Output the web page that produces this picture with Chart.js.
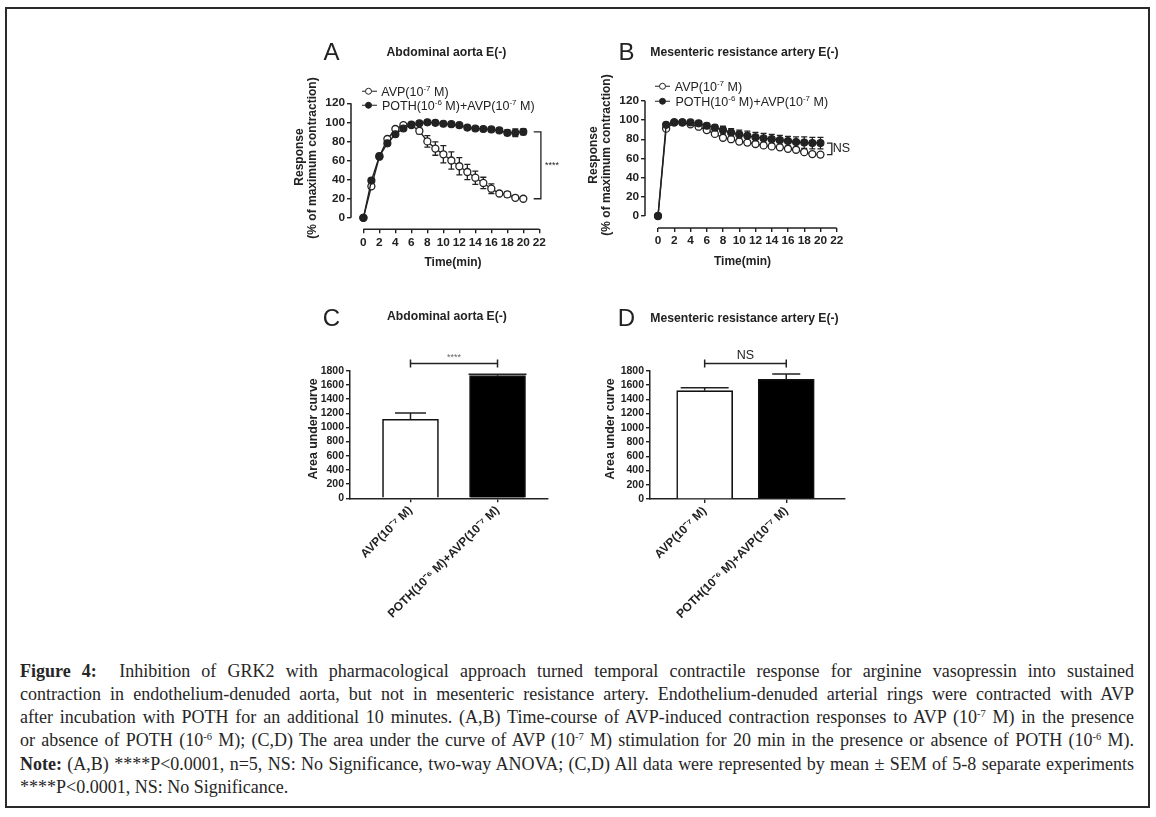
<!DOCTYPE html>
<html>
<head>
<meta charset="utf-8">
<script src="https://cdn.jsdelivr.net/npm/chart.js@4.4.1/dist/chart.umd.min.js"></script>
<style>
  html,body{margin:0;padding:0;}
  body{width:1156px;height:817px;background:#fff;position:relative;overflow:hidden;font-family:"Liberation Sans",Arial,sans-serif;color:#222;}
  .frame{position:absolute;left:5px;top:7px;width:1141px;height:797px;border:2px solid #2a2a2a;}
  canvas{position:absolute;}
  .c{position:absolute;white-space:nowrap;transform:translate(-50%,-50%);line-height:1;}
  .big{font-size:24px;}
  .ttl{font-size:12.2px;font-weight:bold;}
  .ax{font-size:12px;font-weight:bold;}
  .ax2{font-size:12.3px;font-weight:bold;}
  .rot{transform:translate(-50%,-50%) rotate(-90deg);}
  .leg{position:absolute;white-space:nowrap;transform:translateY(-50%);font-size:12.5px;line-height:1;}
  .leg sup{font-size:8px;vertical-align:5px;line-height:0;}
  .mk{display:inline-block;position:relative;width:15px;height:8px;vertical-align:middle;margin-right:2px;top:-1px;}
  .mk:before{content:"";position:absolute;left:0;right:0;top:3.4px;border-top:1.3px solid #222;}
  .mk i{position:absolute;left:3.7px;top:0.3px;width:5px;height:5px;border:1.3px solid #222;border-radius:50%;background:#fff;}
  .mk.f i{background:#222;}
  .cap{position:absolute;left:20px;top:659.5px;width:1114px;font-family:"Liberation Serif","Times New Roman",serif;font-size:18px;line-height:23.3px;color:#262626;}
  .cap div{text-align:justify;text-align-last:justify;white-space:normal;}
  .cap div.last{text-align-last:left;}
  .cap sup{font-size:10.5px;vertical-align:6px;line-height:0;}
</style>
</head>
<body>
<div class="frame"></div>

<canvas id="chartA" width="310" height="230" style="left:270px;top:60px"></canvas>
<canvas id="chartB" width="310" height="230" style="left:565px;top:60px"></canvas>
<canvas id="chartC" width="300" height="300" style="left:270px;top:330px"></canvas>
<canvas id="chartD" width="300" height="300" style="left:570px;top:330px"></canvas>

<!-- panel letters and titles -->
<div class="c big" style="left:331.5px;top:51.5px">A</div>
<div class="c ttl" style="left:446.5px;top:52px">Abdominal aorta E(-)</div>
<div class="c big" style="left:626.5px;top:51.5px">B</div>
<div class="c ttl" style="left:744.5px;top:52px">Mesenteric resistance artery E(-)</div>
<div class="c big" style="left:331.5px;top:317.5px">C</div>
<div class="c ttl" style="left:447px;top:316px">Abdominal aorta E(-)</div>
<div class="c big" style="left:626.5px;top:318px">D</div>
<div class="c ttl" style="left:744.5px;top:318px">Mesenteric resistance artery E(-)</div>

<!-- legends -->
<div class="leg" style="left:361.5px;top:91.7px"><span class="mk"><i></i></span> AVP(10<sup>-7</sup> M)</div>
<div class="leg" style="left:361.5px;top:106px"><span class="mk f"><i></i></span> POTH(10<sup>-6</sup> M)+AVP(10<sup>-7</sup> M)</div>
<div class="leg" style="left:655px;top:87.3px"><span class="mk"><i></i></span> AVP(10<sup>-7</sup> M)</div>
<div class="leg" style="left:655px;top:101.7px"><span class="mk f"><i></i></span> POTH(10<sup>-6</sup> M)+AVP(10<sup>-7</sup> M)</div>

<!-- axis titles -->
<div class="c ax rot" style="left:298.5px;top:157px">Response</div>
<div class="c ax rot" style="left:311.5px;top:157.5px">(% of maximum contraction)</div>
<div class="c ax" style="left:453px;top:262.3px">Time(min)</div>
<div class="c ax rot" style="left:592.5px;top:155px">Response</div>
<div class="c ax rot" style="left:605.5px;top:155px">(% of maximum contraction)</div>
<div class="c ax" style="left:742.5px;top:260.5px">Time(min)</div>
<div class="c ax2 rot" style="left:313px;top:429px">Area under curve</div>
<div class="c ax2 rot" style="left:610px;top:429px">Area under curve</div>

<!-- caption -->
<div class="cap">
  <div><b>Figure 4:</b>&nbsp; Inhibition of GRK2 with pharmacological approach turned temporal contractile response for arginine vasopressin into sustained</div>
  <div>contraction in endothelium-denuded aorta, but not in mesenteric resistance artery. Endothelium-denuded arterial rings were contracted with AVP</div>
  <div>after incubation with POTH for an additional 10 minutes. (A,B) Time-course of AVP-induced contraction responses to AVP (10<sup>-7</sup> M) in the presence</div>
  <div>or absence of POTH (10<sup>-6</sup> M); (C,D) The area under the curve of AVP (10<sup>-7</sup> M) stimulation for 20 min in the presence or absence of POTH (10<sup>-6</sup> M).</div>
  <div><b>Note:</b> (A,B) ****P&lt;0.0001, n=5, NS: No Significance, two-way ANOVA; (C,D) All data were represented by mean ± SEM of 5-8 separate experiments</div>
  <div class="last">****P&lt;0.0001, NS: No Significance.</div>
</div>

<script>
// ---------------- DATA ----------------
const timeMin = [0,1,2,3,4,5,6,7,8,9,10,11,12,13,14,15,16,17,18,19,20];

// Panel A: Abdominal aorta E(-), % of maximum contraction
const aortaAVP      = [0,33,64,82.5,93,97,97,91,80,72.5,66.5,60,54,48,42,36.5,30.5,25.5,24.5,21,20];
const aortaAVPSem   = [0,2,1,1.5,1.5,1,1,3,6,7,9,9,9,8,7,6,5,2,3,1,1];
const aortaPOTH     = [0,39,64.5,78,87.5,93.5,97.5,99,100,99.5,98.5,98,97,94.5,93.5,93,92.5,91.5,89,89,90];
const aortaPOTHSem  = [0,2,1,1.5,1.5,1,1,1,1,1,1,1,1,1,1,1,2,2,3,4,3];

// Panel B: Mesenteric resistance artery E(-)
const mesAVP        = [0,91,97.5,97.5,95.5,93,89.5,85.5,81.5,80,77.5,76.5,75,73.5,72.5,71.5,70,69,66.5,64.5,64];
const mesAVPSem     = [0,2,1,1,1,1,1.5,1.5,2,2,2,2,2,2,2,2,2,2,2,2,2];
const mesPOTH       = [0,95,97.5,97.5,97.5,96.5,94,92,89.5,87,85,83.5,82,81,80,79,78,77,76.5,76,76];
const mesPOTHSem    = [0,2,1,1,1.5,2,2.5,3,4,4,4.5,5,5,5,5,5,5,5.5,6,6,6];

// Panels C, D: area under curve
const groups        = ['AVP(10\u207B\u2077 M)', 'POTH(10\u207B\u2076 M)+AVP(10\u207B\u2077 M)'];
const aucAorta      = [1115, 1730];
const aucAortaSem   = [90, 20];
const aucMes        = [1520, 1680];
const aucMesSem     = [40, 75];

// Tick labels
const timeTicks     = [0,2,4,6,8,10,12,14,16,18,20,22];
const responseTicks = [0,20,40,60,80,100,120];
const aucTicks      = [0,200,400,600,800,1000,1200,1400,1600,1800];

// Significance labels
const sigAorta = '****';
const sigMes   = 'NS';

// ---------------- STYLE ----------------
const FONT = '"Liberation Sans", Arial, sans-serif';
const INK = '#222';
const tickFont = {family: FONT, size: 11.8, weight: 'bold'};

// error bar plugin (drawn via the chart scales)
const errorBars = {
  id: 'errorBars',
  beforeDatasetsDraw(chart) { drawErr(chart, 'before'); },
  afterDatasetsDraw(chart) { drawErr(chart, 'after'); }
};
function drawErr(chart, when) {
  const ctx = chart.ctx, xs = chart.scales.x, ys = chart.scales.y;
  chart.data.datasets.forEach((ds, i) => {
    if (!ds.sem || (ds.errWhen || 'before') !== when) return;
    ctx.save();
    ctx.strokeStyle = INK; ctx.lineWidth = ds.errWidth || 1.3;
    ds.data.forEach((pt, j) => {
      const s = ds.sem[j];
      if (!s) return;
      const x = xs.getPixelForValue(pt.x);
      const yT = ys.getPixelForValue(pt.y + s);
      const yB = ds.errUpOnly ? ys.getPixelForValue(pt.y) : ys.getPixelForValue(pt.y - s);
      const cw = Array.isArray(ds.capWidth) ? ds.capWidth[j] : (ds.capWidth || 6);
      ctx.beginPath();
      ctx.moveTo(x, yT); ctx.lineTo(x, yB);
      ctx.moveTo(x - cw/2, yT); ctx.lineTo(x + cw/2, yT);
      if (!ds.errUpOnly) { ctx.moveTo(x - cw/2, yB); ctx.lineTo(x + cw/2, yB); }
      ctx.stroke();
    });
    ctx.restore();
  });
}

// detached GraphPad-style axis lines for the time-course panels
const partialAxes = {
  id: 'partialAxes',
  afterDraw(chart, args, o) {
    if (!o || !o.on) return;
    const ctx = chart.ctx, xs = chart.scales.x, ys = chart.scales.y, ca = chart.chartArea;
    ctx.save(); ctx.strokeStyle = INK; ctx.lineWidth = 1.5;
    ctx.beginPath();
    ctx.moveTo(ca.left, ys.getPixelForValue(o.y0)); ctx.lineTo(ca.left, ys.getPixelForValue(o.y1));
    ctx.moveTo(xs.getPixelForValue(o.x0), ca.bottom); ctx.lineTo(xs.getPixelForValue(o.x1), ca.bottom);
    ctx.stroke();
    ctx.restore();
  }
};

function lineChart(id, avp, avpSem, poth, pothSem, g, annotate) {
  const pts = arr => timeMin.map((t, i) => ({x: t, y: arr[i]}));
  return new Chart(document.getElementById(id), {
    type: 'line',
    data: {
      datasets: [
        {label: 'POTH', data: pts(poth), sem: pothSem, order: 1,
         borderColor: INK, borderWidth: 1.4, tension: 0,
         pointRadius: 3.5, pointBackgroundColor: INK, pointBorderColor: INK, pointBorderWidth: 1.2},
        {label: 'AVP', data: pts(avp), sem: avpSem, order: 2,
         borderColor: INK, borderWidth: 1.4, tension: 0,
         pointRadius: 3.5, pointBackgroundColor: '#fff', pointBorderColor: INK, pointBorderWidth: 1.3}
      ]
    },
    options: {
      responsive: false, animation: false, devicePixelRatio: 1,
      layout: {padding: {left: 0, top: g.top, right: g.right, bottom: 0}},
      plugins: {legend: {display: false}, tooltip: {enabled: false},
                partialAxes: {on: true, y0: 0, y1: 120, x0: 0, x1: 22}},
      scales: {
        x: {type: 'linear', min: g.xmin, max: 22,
            afterBuildTicks: s => { s.ticks = timeTicks.map(v => ({value: v})); },
            afterFit: s => { s.height = g.xh; },
            grid: {display: true, drawOnChartArea: false, drawTicks: true, tickLength: 4, color: INK, lineWidth: 1.4},
            border: {display: false},
            ticks: {font: tickFont, color: INK, padding: 2, maxRotation: 0, autoSkip: false,
                    callback: v => String(v)}},
        y: {type: 'linear', min: g.ymin, max: 120,
            afterBuildTicks: s => { s.ticks = responseTicks.map(v => ({value: v})); },
            afterFit: s => { s.width = g.yw; },
            grid: {display: true, drawOnChartArea: false, drawTicks: true, tickLength: 4, color: INK, lineWidth: 1.4},
            border: {display: false},
            ticks: {font: tickFont, color: INK, padding: 2, autoSkip: false,
                    callback: v => String(v)}}
      }
    },
    plugins: [errorBars, partialAxes, {id: 'sig', afterDraw: annotate}]
  });
}

function barChart(id, vals, sems, g, capW, annotate) {
  return new Chart(document.getElementById(id), {
    type: 'bar',
    data: {
      datasets: [{
        data: vals.map((v, i) => ({x: i, y: v})), sem: sems,
        errUpOnly: true, errWhen: 'after', capWidth: capW, errWidth: 1.5,
        backgroundColor: ['#fff', '#000'], borderColor: '#111', borderWidth: 1.6,
        borderSkipped: 'start', barThickness: 56
      }]
    },
    options: {
      responsive: false, animation: false, devicePixelRatio: 1,
      layout: {padding: {left: 0, top: g.top, right: g.right, bottom: 0}},
      plugins: {legend: {display: false}, tooltip: {enabled: false}},
      scales: {
        x: {type: 'linear', min: g.xmin, max: g.xmax, offset: false,
            afterBuildTicks: s => { s.ticks = groups.map((_, i) => ({value: i})); },
            afterFit: s => { s.height = g.xh; },
            grid: {display: true, offset: false, drawOnChartArea: false, drawTicks: true, tickLength: 4, color: INK, lineWidth: 1.4},
            border: {display: true, color: INK, width: 1.5},
            ticks: {font: {family: FONT, size: 12, weight: 'bold'}, color: INK, padding: 1,
                    minRotation: 45, maxRotation: 45, autoSkip: false,
                    callback: v => groups[v]}},
        y: {type: 'linear', min: 0, max: 1800,
            afterBuildTicks: s => { s.ticks = aucTicks.map(v => ({value: v})); },
            afterFit: s => { s.width = g.yw; },
            grid: {display: true, drawOnChartArea: false, drawTicks: true, tickLength: 4, color: INK, lineWidth: 1.4},
            border: {display: true, color: INK, width: 1.5},
            ticks: {font: {family: FONT, size: 10.5, weight: 'bold'}, color: INK, padding: 2, autoSkip: false,
                    callback: v => String(v)}}
      }
    },
    plugins: [errorBars, {id: 'sig', afterDraw: annotate}]
  });
}

// side bracket for time-course panels
function sideBracket(hi, lo, xLine, xArm, label, font, dx) {
  return chart => {
    const ctx = chart.ctx, xs = chart.scales.x, ys = chart.scales.y;
    const X = xs.getPixelForValue(xLine), A = xs.getPixelForValue(xArm);
    const yh = ys.getPixelForValue(hi), yl = ys.getPixelForValue(lo);
    ctx.save(); ctx.strokeStyle = INK; ctx.lineWidth = 1.3;
    ctx.beginPath(); ctx.moveTo(A, yh); ctx.lineTo(X, yh); ctx.lineTo(X, yl); ctx.lineTo(A, yl); ctx.stroke();
    ctx.fillStyle = INK; ctx.font = font; ctx.textBaseline = 'middle'; ctx.textAlign = 'left';
    ctx.fillText(label, X + dx, ys.getPixelForValue((hi + lo) / 2));
    ctx.restore();
  };
}
// top bracket for bar panels
function topBracket(level, label, font, dy, color) {
  return chart => {
    const ctx = chart.ctx, xs = chart.scales.x, ys = chart.scales.y;
    const x0 = xs.getPixelForValue(0), x1 = xs.getPixelForValue(1), y = ys.getPixelForValue(level);
    ctx.save(); ctx.strokeStyle = INK; ctx.lineWidth = 1.5;
    ctx.beginPath();
    ctx.moveTo(x0, y); ctx.lineTo(x1, y);
    ctx.moveTo(x0, y - 4); ctx.lineTo(x0, y + 4);
    ctx.moveTo(x1, y - 4); ctx.lineTo(x1, y + 4);
    ctx.stroke();
    ctx.fillStyle = color; ctx.font = font; ctx.textAlign = 'center'; ctx.textBaseline = 'middle';
    ctx.fillText(label, (x0 + x1) / 2, y - dy);
    ctx.restore();
  };
}

lineChart('chartA', aortaAVP, aortaAVPSem, aortaPOTH, aortaPOTHSem,
  {top: 43.2, right: 40.7, xh: 60.7, yw: 81, xmin: -1.55, ymin: -12},
  sideBracket(90, 20, 22.2, 21.3, sigAorta, '9px ' + FONT, 4));
lineChart('chartB', mesAVP, mesAVPSem, mesPOTH, mesPOTHSem,
  {top: 40.8, right: 38.3, xh: 62, yw: 80, xmin: -1.6, ymin: -12.5},
  sideBracket(76, 64, 21.4, 20.8, sigMes, '12.5px ' + FONT, 1));
barChart('chartC', aucAorta, aucAortaSem,
  {top: 40.7, right: 22, xh: 131.7, yw: 80, xmin: -0.695, xmax: 1.58}, [31, 58],
  topBracket(1900, sigAorta, '9px ' + FONT, 6, '#666'));
barChart('chartD', aucMes, aucMesSem,
  {top: 40.7, right: 25, xh: 131, yw: 80, xmin: -0.67, xmax: 1.72}, [48, 28],
  topBracket(1900, sigMes, '12.5px ' + FONT, 8, INK));
</script>
</body>
</html>
